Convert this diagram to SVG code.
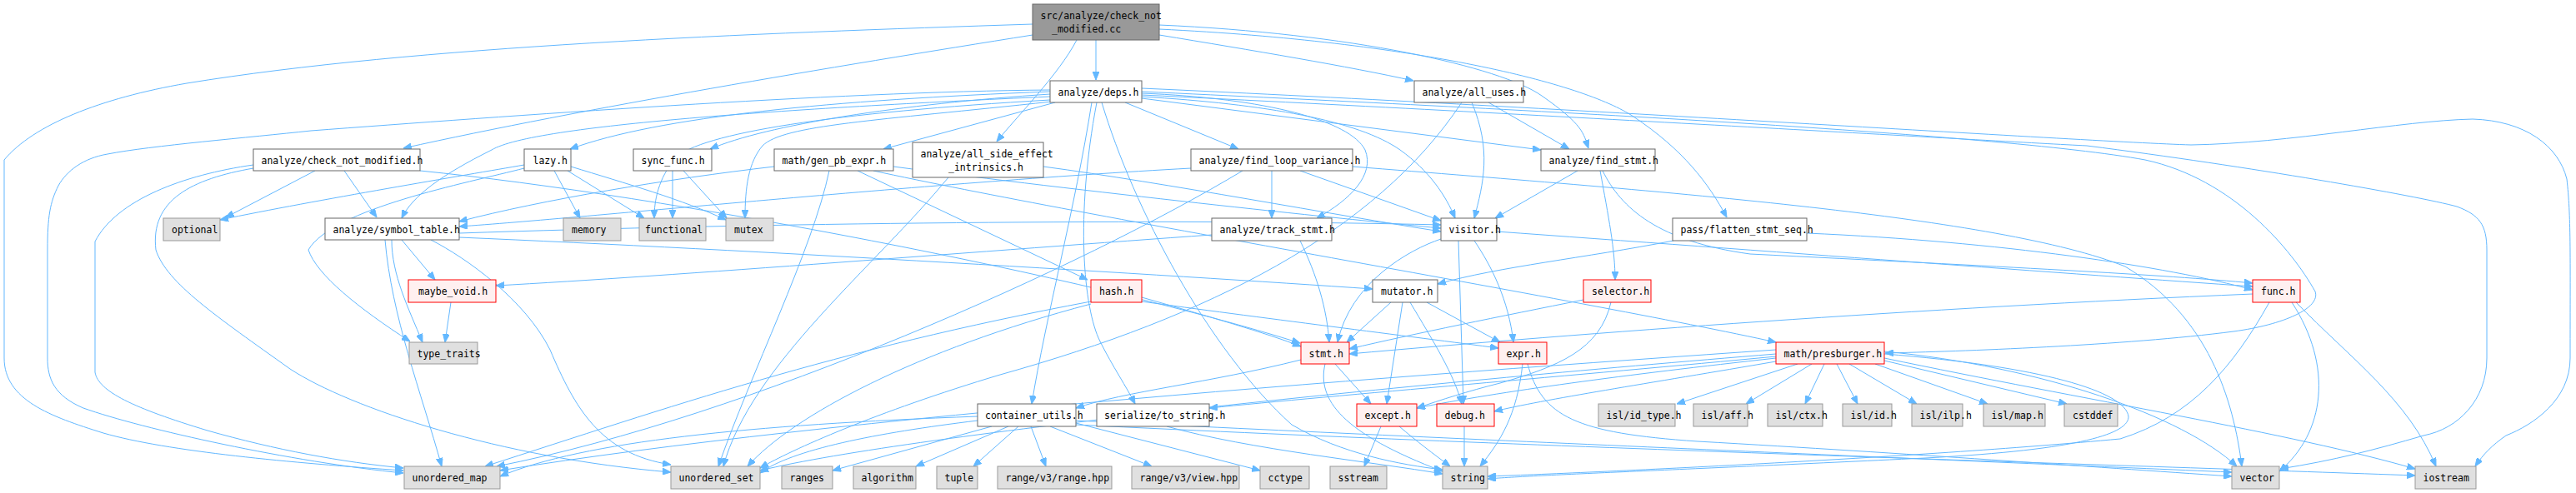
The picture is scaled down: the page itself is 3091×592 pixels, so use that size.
<svg xmlns="http://www.w3.org/2000/svg" width="3091" height="592" viewBox="0 0 3091 592">
<style>
.e{fill:none;stroke:#63b8ff;stroke-width:1;marker-end:url(#ah)}
.n rect{fill:#ffffff;stroke:#666666;stroke-width:1}
.r rect{fill:#fff0f0;stroke:#ff0000;stroke-width:1}
.s rect{fill:#e0e0e0;stroke:#999999;stroke-width:1}
.o rect{fill:#999999;stroke:#666666;stroke-width:1}
text{font-family:"DejaVu Sans Mono","Liberation Mono",monospace;font-size:11.5px;fill:#000000}
</style>
<defs>
<marker id="ah" markerUnits="userSpaceOnUse" markerWidth="10" markerHeight="8" refX="10" refY="4" orient="auto">
<path d="M0,0 L10,4 L0,8 z" fill="#63b8ff" stroke="#63b8ff"/>
</marker>
</defs>
<rect width="3091" height="592" fill="#ffffff"/>
<g id="edges">
<path class="e" d="M1315,48 L1315,96"/>
<path class="e" d="M1292,48 C1270,90 1220,140 1196,170"/>
<path class="e" d="M1391,42 C1500,60 1620,80 1696,97"/>
<path class="e" d="M1391,30 C1620,40 1800,80 1850,115 S1900,160 1906,178"/>
<path class="e" d="M1391,35 C1700,50 1900,100 1960,140 S2050,220 2072,261"/>
<path class="e" d="M1239,42 C1000,80 700,130 484,178"/>
<path class="e" d="M1239,29 C900,40 500,55 224,100 C120,118 40,150 5,192 L5,430 C5,480 60,500 124,520 C200,542 350,556 484,565"/>
<path class="e" d="M1260,110 C1000,120 790,140 684,179"/>
<path class="e" d="M1260,113 C1080,125 920,150 852,179"/>
<path class="e" d="M1266,123 L1060,179"/>
<path class="e" d="M1350,123 L1486,179"/>
<path class="e" d="M1370,118 L1849,180"/>
<path class="e" d="M1260,116 C950,130 640,150 590,180 C530,210 495,235 482,262"/>
<path class="e" d="M1260,120 C1000,135 840,160 810,190 C790,215 785,240 785,262"/>
<path class="e" d="M1262,122 C1050,145 940,150 915,175 C898,195 894,225 894,262"/>
<path class="e" d="M1370,112 C1520,118 1620,145 1638,180 C1650,210 1620,240 1580,262"/>
<path class="e" d="M1370,116 C1520,125 1630,145 1680,180 C1715,205 1735,235 1746,262"/>
<path class="e" d="M1310,123 C1290,250 1255,380 1238,485"/>
<path class="e" d="M1316,123 C1290,260 1300,370 1320,410 C1335,440 1352,465 1362,485"/>
<path class="e" d="M1322,123 C1360,250 1450,420 1550,510 C1610,545 1680,558 1731,564"/>
<path class="e" d="M1370,110 C1800,130 2400,160 2574,192 C2680,215 2750,300 2778,350 C2785,370 2740,390 2680,398 C2550,415 2350,422 2262,424"/>
<path class="e" d="M1370,114 C1900,140 2400,170 2504,175 C2700,200 2900,235 2948,248 C2975,258 2984,270 2984,300 L2984,430 C2984,480 2950,515 2908,523 C2850,540 2800,553 2736,563"/>
<path class="e" d="M1370,106 C1900,130 2500,170 2629,174 C2750,172 2880,145 2967,143 C3030,145 3070,175 3080,215 C3085,260 3084,300 3084,430 C3084,480 3040,510 3007,523 C2990,535 2980,545 2970,560"/>
<path class="e" d="M1260,108 C1000,110 600,140 373,157 C300,165 180,175 129,185 C100,190 80,205 70,223 C60,243 57,260 57,300 L57,430 C57,455 65,475 100,490 C170,515 350,555 484,568"/>
<path class="e" d="M378,205 L271,261"/>
<path class="e" d="M413,205 L452,261"/>
<path class="e" d="M304,198 C220,210 140,240 114,290 L114,447 C118,470 160,490 249,517 C330,540 410,555 484,562"/>
<path class="e" d="M304,202 C230,215 180,240 187,300 C200,340 260,380 348,443 C420,490 600,550 805,567"/>
<path class="e" d="M504,205 C800,235 1300,330 1560,412"/>
<path class="e" d="M482,288 L522,336"/>
<path class="e" d="M470,288 C470,330 490,370 507,411"/>
<path class="e" d="M462,288 C470,380 505,470 530,560"/>
<path class="e" d="M517,288 C560,310 630,360 660,420 C690,490 720,545 805,558"/>
<path class="e" d="M551,285 C900,300 1400,330 1647,347"/>
<path class="e" d="M551,280 C900,268 1400,262 1729,270"/>
<path class="e" d="M629,198 C560,210 380,240 264,264"/>
<path class="e" d="M665,205 L696,262"/>
<path class="e" d="M681,205 L773,262"/>
<path class="e" d="M685,200 C750,220 820,240 871,264"/>
<path class="e" d="M629,202 C560,220 400,250 370,300 C380,330 430,370 492,410"/>
<path class="e" d="M807,205 L807,262"/>
<path class="e" d="M820,205 L872,262"/>
<path class="e" d="M1029,205 L1305,336"/>
<path class="e" d="M1048,205 C1300,260 1900,360 2131,411"/>
<path class="e" d="M929,200 C800,215 650,240 551,266"/>
<path class="e" d="M995,205 C975,300 900,450 862,560"/>
<path class="e" d="M1072,200 C1300,230 1600,262 1729,274"/>
<path class="e" d="M1138,213 C1050,320 900,440 868,560"/>
<path class="e" d="M1252,200 C1400,220 1600,258 1729,278"/>
<path class="e" d="M1526,205 L1526,262"/>
<path class="e" d="M1560,205 L1729,265"/>
<path class="e" d="M1429,202 C1100,220 700,262 551,272"/>
<path class="e" d="M1491,205 C1300,320 900,500 596,560"/>
<path class="e" d="M1623,200 C2000,230 2400,260 2550,320 C2650,380 2680,480 2690,560"/>
<path class="e" d="M1893,205 L1794,262"/>
<path class="e" d="M1920,205 C1930,260 1938,300 1938,336"/>
<path class="e" d="M1923,205 C1945,250 1990,290 2100,305 C2400,320 2600,330 2703,340"/>
<path class="e" d="M1786,123 L1883,179"/>
<path class="e" d="M1766,123 C1790,180 1780,220 1769,262"/>
<path class="e" d="M1754,123 C1650,280 1450,380 1200,450 C1050,495 950,540 912,562"/>
<path class="e" d="M1454,282 C1200,300 800,332 595,343"/>
<path class="e" d="M1560,289 C1580,330 1592,370 1595,411"/>
<path class="e" d="M1729,287 C1690,300 1620,340 1605,411"/>
<path class="e" d="M1769,289 C1790,320 1810,360 1816,411"/>
<path class="e" d="M1750,289 L1756,485"/>
<path class="e" d="M1796,278 C2100,300 2500,330 2703,344"/>
<path class="e" d="M2008,289 C1900,310 1800,320 1725,341"/>
<path class="e" d="M2168,280 C2400,290 2600,320 2703,348"/>
<path class="e" d="M541,363 L534,411"/>
<path class="e" d="M1370,357 C1450,380 1520,400 1561,416"/>
<path class="e" d="M1370,362 C1500,380 1700,405 1798,418"/>
<path class="e" d="M1309,362 C1000,420 800,490 582,560"/>
<path class="e" d="M1309,365 C1100,420 950,500 897,560"/>
<path class="e" d="M1669,363 L1616,411"/>
<path class="e" d="M1712,363 L1800,411"/>
<path class="e" d="M1683,363 L1664,485"/>
<path class="e" d="M1692,363 C1720,410 1745,450 1754,485"/>
<path class="e" d="M1900,360 C1800,380 1700,400 1619,419"/>
<path class="e" d="M1933,363 C1920,420 1870,440 1800,460 C1760,470 1730,480 1700,490"/>
<path class="e" d="M2703,353 C2300,370 1900,400 1619,425"/>
<path class="e" d="M2723,363 C2680,440 2630,500 2544,527 C2300,550 1900,568 1785,572"/>
<path class="e" d="M2750,363 C2800,440 2790,520 2735,566"/>
<path class="e" d="M2755,363 C2820,430 2890,480 2923,560"/>
<path class="e" d="M1602,437 L1645,485"/>
<path class="e" d="M1590,437 C1580,480 1610,520 1731,566"/>
<path class="e" d="M1561,432 C1450,460 1350,470 1291,490"/>
<path class="e" d="M1827,437 C1820,500 1800,530 1776,560"/>
<path class="e" d="M1833,437 C1850,500 1890,520 2037,530 C2300,545 2500,560 2678,572"/>
<path class="e" d="M1657,512 L1637,560"/>
<path class="e" d="M1679,512 C1700,530 1720,545 1740,560"/>
<path class="e" d="M1757,512 L1757,560"/>
<path class="e" d="M2157,437 L2012,485"/>
<path class="e" d="M2174,437 L2095,485"/>
<path class="e" d="M2189,437 L2166,485"/>
<path class="e" d="M2204,437 L2229,485"/>
<path class="e" d="M2219,437 L2300,485"/>
<path class="e" d="M2250,437 L2385,485"/>
<path class="e" d="M2261,433 L2480,485"/>
<path class="e" d="M2131,430 C1950,450 1800,470 1700,490"/>
<path class="e" d="M2131,434 C1980,460 1850,480 1793,494"/>
<path class="e" d="M2131,420 C1700,450 1000,500 600,565"/>
<path class="e" d="M2131,425 C1700,460 1100,520 912,565"/>
<path class="e" d="M2131,428 C1900,450 1600,475 1451,490"/>
<path class="e" d="M2261,425 C2450,440 2550,470 2554,500 C2555,520 2500,540 2310,550 C2000,565 1850,570 1785,575"/>
<path class="e" d="M2261,422 C2450,440 2620,500 2684,560"/>
<path class="e" d="M2261,430 C2500,480 2750,520 2898,563"/>
<path class="e" d="M1173,505 C1050,520 950,540 912,568"/>
<path class="e" d="M1190,512 L999,565"/>
<path class="e" d="M1210,512 L1099,560"/>
<path class="e" d="M1222,512 L1168,560"/>
<path class="e" d="M1237,512 L1255,560"/>
<path class="e" d="M1260,512 L1382,560"/>
<path class="e" d="M1291,508 L1512,565"/>
<path class="e" d="M1173,500 C900,510 700,530 600,572"/>
<path class="e" d="M1291,505 C1800,530 2400,555 2678,567"/>
<path class="e" d="M1291,510 C1900,540 2600,560 2898,571"/>
<path class="e" d="M1400,512 C1500,540 1650,555 1731,569"/>
</g>
<g id="n_root" class="o"><rect x="1239" y="5" width="152" height="43"/><text x="1248.5" y="22.5">src/analyze/check_not</text><text x="1262" y="38.5">_modified.cc</text></g>
<g id="n_deps" class="n"><rect x="1260" y="97" width="110" height="26"/><text x="1269.5" y="114.5">analyze/deps.h</text></g>
<g id="n_all_uses" class="n"><rect x="1697" y="97" width="131" height="26"/><text x="1706.5" y="114.5">analyze/all_uses.h</text></g>
<g id="n_check_not_modified" class="n"><rect x="304" y="179" width="200" height="26"/><text x="313.5" y="196.5">analyze/check_not_modified.h</text></g>
<g id="n_lazy" class="n"><rect x="629" y="179" width="56" height="26"/><text x="639.5" y="196.5">lazy.h</text></g>
<g id="n_sync_func" class="n"><rect x="760" y="179" width="94" height="26"/><text x="769.5" y="196.5">sync_func.h</text></g>
<g id="n_gen_pb_expr" class="n"><rect x="929" y="179" width="143" height="26"/><text x="938.5" y="196.5">math/gen_pb_expr.h</text></g>
<g id="n_all_side_effect" class="n"><rect x="1095" y="171" width="157" height="42"/><text x="1104.5" y="188.5">analyze/all_side_effect</text><text x="1138" y="204.5">_intrinsics.h</text></g>
<g id="n_find_loop_variance" class="n"><rect x="1429" y="179" width="194" height="26"/><text x="1438.5" y="196.5">analyze/find_loop_variance.h</text></g>
<g id="n_find_stmt" class="n"><rect x="1849" y="179" width="137" height="26"/><text x="1858.5" y="196.5">analyze/find_stmt.h</text></g>
<g id="n_optional" class="s"><rect x="196" y="262" width="68" height="27"/><text x="206" y="280">optional</text></g>
<g id="n_symbol_table" class="n"><rect x="390" y="262" width="161" height="26"/><text x="399.5" y="279.5">analyze/symbol_table.h</text></g>
<g id="n_memory" class="s"><rect x="676" y="262" width="69" height="27"/><text x="686" y="280">memory</text></g>
<g id="n_functional" class="s"><rect x="767" y="262" width="80" height="27"/><text x="774" y="280">functional</text></g>
<g id="n_mutex" class="s"><rect x="871" y="262" width="57" height="27"/><text x="881" y="280">mutex</text></g>
<g id="n_track_stmt" class="n"><rect x="1454" y="262" width="144" height="27"/><text x="1463.5" y="280">analyze/track_stmt.h</text></g>
<g id="n_visitor" class="n"><rect x="1729" y="262" width="67" height="27"/><text x="1738.5" y="280">visitor.h</text></g>
<g id="n_flatten" class="n"><rect x="2007" y="262" width="161" height="27"/><text x="2016.5" y="280">pass/flatten_stmt_seq.h</text></g>
<g id="n_maybe_void" class="r"><rect x="490" y="336" width="105" height="27"/><text x="502" y="354">maybe_void.h</text></g>
<g id="n_hash" class="r"><rect x="1309" y="336" width="61" height="27"/><text x="1319" y="354">hash.h</text></g>
<g id="n_mutator" class="n"><rect x="1647" y="336" width="78" height="27"/><text x="1657" y="354">mutator.h</text></g>
<g id="n_selector" class="r"><rect x="1900" y="336" width="81" height="27"/><text x="1910" y="354">selector.h</text></g>
<g id="n_func" class="r"><rect x="2703" y="336" width="57" height="27"/><text x="2713" y="354">func.h</text></g>
<g id="n_type_traits" class="s"><rect x="491" y="411" width="82" height="26"/><text x="500.5" y="428.5">type_traits</text></g>
<g id="n_stmt" class="r"><rect x="1561" y="411" width="58" height="26"/><text x="1570.5" y="428.5">stmt.h</text></g>
<g id="n_expr" class="r"><rect x="1798" y="411" width="58" height="26"/><text x="1807.5" y="428.5">expr.h</text></g>
<g id="n_presburger" class="r"><rect x="2131" y="411" width="130" height="26"/><text x="2140.5" y="428.5">math/presburger.h</text></g>
<g id="n_container_utils" class="n"><rect x="1173" y="485" width="118" height="27"/><text x="1182" y="503">container_utils.h</text></g>
<g id="n_to_string" class="n"><rect x="1316" y="485" width="135" height="27"/><text x="1325" y="503">serialize/to_string.h</text></g>
<g id="n_except" class="r"><rect x="1628" y="485" width="72" height="27"/><text x="1637.5" y="503">except.h</text></g>
<g id="n_debug" class="r"><rect x="1724" y="485" width="69" height="27"/><text x="1733.5" y="503">debug.h</text></g>
<g id="n_isl_id_type" class="s"><rect x="1918" y="485" width="92" height="27"/><text x="1927.5" y="503">isl/id_type.h</text></g>
<g id="n_isl_aff" class="s"><rect x="2032" y="485" width="65" height="27"/><text x="2041.5" y="503">isl/aff.h</text></g>
<g id="n_isl_ctx" class="s"><rect x="2121" y="485" width="66" height="27"/><text x="2130.5" y="503">isl/ctx.h</text></g>
<g id="n_isl_id" class="s"><rect x="2211" y="485" width="59" height="27"/><text x="2220.5" y="503">isl/id.h</text></g>
<g id="n_isl_ilp" class="s"><rect x="2294" y="485" width="61" height="27"/><text x="2303.5" y="503">isl/ilp.h</text></g>
<g id="n_isl_map" class="s"><rect x="2380" y="485" width="74" height="27"/><text x="2389.5" y="503">isl/map.h</text></g>
<g id="n_cstddef" class="s"><rect x="2477" y="485" width="64" height="27"/><text x="2487" y="503">cstddef</text></g>
<g id="n_unordered_map" class="s"><rect x="485" y="560" width="115" height="27"/><text x="494.5" y="578">unordered_map</text></g>
<g id="n_unordered_set" class="s"><rect x="805" y="560" width="107" height="27"/><text x="814.5" y="578">unordered_set</text></g>
<g id="n_ranges" class="s"><rect x="938" y="560" width="61" height="27"/><text x="947.5" y="578">ranges</text></g>
<g id="n_algorithm" class="s"><rect x="1024" y="560" width="75" height="27"/><text x="1033.5" y="578">algorithm</text></g>
<g id="n_tuple" class="s"><rect x="1124" y="560" width="49" height="27"/><text x="1133.5" y="578">tuple</text></g>
<g id="n_range_hpp" class="s"><rect x="1197" y="560" width="137" height="27"/><text x="1206.5" y="578">range/v3/range.hpp</text></g>
<g id="n_view_hpp" class="s"><rect x="1358" y="560" width="129" height="27"/><text x="1367.5" y="578">range/v3/view.hpp</text></g>
<g id="n_cctype" class="s"><rect x="1512" y="560" width="59" height="27"/><text x="1521.5" y="578">cctype</text></g>
<g id="n_sstream" class="s"><rect x="1596" y="560" width="68" height="27"/><text x="1605.5" y="578">sstream</text></g>
<g id="n_string" class="s"><rect x="1731" y="560" width="54" height="27"/><text x="1740.5" y="578">string</text></g>
<g id="n_vector" class="s"><rect x="2678" y="560" width="57" height="27"/><text x="2687.5" y="578">vector</text></g>
<g id="n_iostream" class="s"><rect x="2898" y="560" width="73" height="27"/><text x="2907.5" y="578">iostream</text></g>
</svg>
